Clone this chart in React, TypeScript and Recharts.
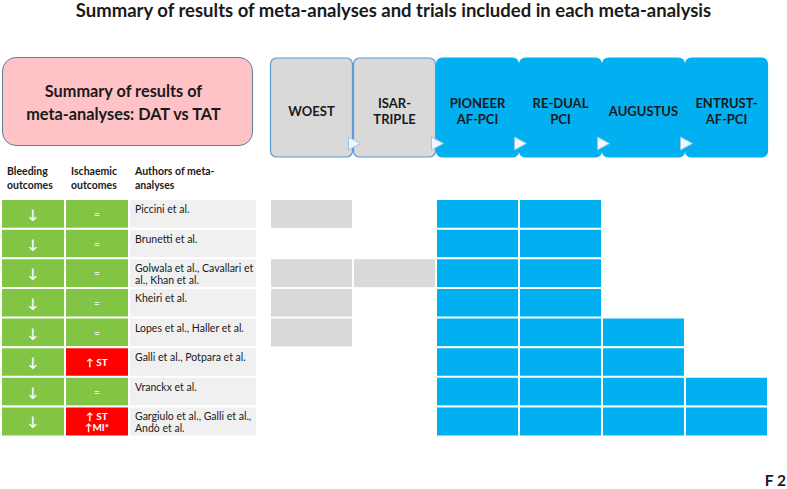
import React from 'react';
import { BarChart, Bar, XAxis, YAxis, Cell, LabelList } from 'recharts';

// trials (columns of the matrix)
const TRIALS = ['WOEST', 'ISAR-TRIPLE', 'PIONEER AF-PCI', 'RE-DUAL PCI', 'AUGUSTUS', 'ENTRUST-AF-PCI'];
const TRIAL_LINES = [['WOEST'], ['ISAR-', 'TRIPLE'], ['PIONEER', 'AF-PCI'], ['RE-DUAL', 'PCI'], ['AUGUSTUS'], ['ENTRUST-', 'AF-PCI']];
const TRIAL_GRAY = [true, true, false, false, false, false];

// meta-analyses (rows)
const AUTHORS = [
    'Piccini et al.',
    'Brunetti et al.',
    'Golwala et al., Cavallari et\nal., Khan et al.',
    'Kheiri et al.',
    'Lopes et al., Haller et al.',
    'Galli et al., Potpara et al.',
    'Vranckx et al.',
    'Gargiulo et al., Galli et al.,\nAndò et al.',
];
const BLEEDING = ['↓', '↓', '↓', '↓', '↓', '↓', '↓', '↓'];
const ISCHAEMIC = ['=', '=', '=', '=', '=', '↑ ST', '=', '↑ ST\n↑MI*'];

// trial included in each meta-analysis (1 = yes)
const INC_WOEST = [1, 0, 1, 1, 1, 0, 0, 0];
const INC_ISAR = [0, 0, 1, 0, 0, 0, 0, 0];
const INC_PIONEER = [1, 1, 1, 1, 1, 1, 1, 1];
const INC_REDUAL = [1, 1, 1, 1, 1, 1, 1, 1];
const INC_AUGUSTUS = [0, 0, 0, 0, 1, 1, 1, 1];
const INC_ENTRUST = [0, 0, 0, 0, 0, 0, 1, 1];
const INCLUDED = [INC_WOEST, INC_ISAR, INC_PIONEER, INC_REDUAL, INC_AUGUSTUS, INC_ENTRUST];

const TABLE_HEADERS = [['Bleeding', 'outcomes'], ['Ischaemic', 'outcomes'], ['Authors of meta-', 'analyses']];

const COLORS = {
    blue: '#00B0F0',
    gray: '#D9D9D9',
    green: '#82C444',
    red: '#FF0000',
    authorsBg: '#F0F0F0',
    pink: '#FFC2C6',
    text: '#1A1A1A',
};

const FONT = 'Lato, "Open Sans", sans-serif';

const matrixData = AUTHORS.map((author) => {
    const row: Record<string, string | number> = { author };
    TRIALS.forEach((_, j) => {
        row[`t${j}`] = 1;
    });
    return row;
});

const tableData = AUTHORS.map((author, i) => ({
    author,
    bleeding: BLEEDING[i],
    ischaemic: ISCHAEMIC[i],
    bW: 1,
    iW: 1,
    aW: 2,
}));

const TrialTick = (props: any) => {
    const { x, index } = props;
    const gray = TRIAL_GRAY[index];
    const lines = TRIAL_LINES[index];
    const top = 58;
    const h = 99;
    const cy = top + h / 2 + 3;
    return (
        <g>
            <rect
                x={x - 41}
                y={top}
                width={82}
                height={h}
                rx={6}
                fill={gray ? COLORS.gray : COLORS.blue}
                stroke={gray ? '#5B9BD5' : COLORS.blue}
                strokeWidth={1.2}
            />
            {lines.map((l, k) => (
                <text
                    key={k}
                    x={x}
                    y={cy + (k - (lines.length - 1) / 2) * 16}
                    textAnchor="middle"
                    dominantBaseline="central"
                    fontFamily={FONT}
                    fontWeight={700}
                    fontSize={13}
                    fill={COLORS.text}
                >
                    {l}
                </text>
            ))}
            {index > 0 && (
                <polygon
                    points={`${x - 46},${top + 79} ${x - 34},${top + 85.5} ${x - 46},${top + 92}`}
                    fill="#EEF7FC"
                    stroke="#9DC3E6"
                    strokeWidth={1}
                />
            )}
        </g>
    );
};

const HeaderTick = (props: any) => {
    const { x, index } = props;
    const lines = TABLE_HEADERS[index];
    return (
        <g>
            {lines.map((l, k) => (
                <text
                    key={k}
                    x={x + 6}
                    y={171 + k * 14}
                    dominantBaseline="central"
                    fontFamily={FONT}
                    fontWeight={700}
                    fontSize={10.5}
                    fill={COLORS.text}
                >
                    {l}
                </text>
            ))}
        </g>
    );
};

const centerLabel = (size: number, color: string) => (props: any) => {
    const { x, y, width, height, value } = props;
    const lines = String(value).split('\n');
    return (
        <g>
            {lines.map((l, k) => (
                <text
                    key={k}
                    x={x + width / 2}
                    y={y + height / 2 + (k - (lines.length - 1) / 2) * 11}
                    textAnchor="middle"
                    dominantBaseline="central"
                    fontFamily={FONT}
                    fontWeight={700}
                    fontSize={size}
                    fill={l === '=' ? '#E4F3D6' : color}
                >
                    {l}
                </text>
            ))}
        </g>
    );
};

const authorLabel = (props: any) => {
    const { x, y, value } = props;
    const lines = String(value).split('\n');
    return (
        <g>
            {lines.map((l, k) => (
                <text
                    key={k}
                    x={x + 6}
                    y={y + 10 + k * 11.5}
                    dominantBaseline="central"
                    fontFamily={FONT}
                    fontSize={10.5}
                    fill={COLORS.text}
                >
                    {l}
                </text>
            ))}
        </g>
    );
};

const App: React.FC = () => {
    return (
        <div style={{ position: 'absolute', left: 0, top: 0, width: 787, height: 489, background: '#fff', fontFamily: FONT }}>
            <div
                style={{
                    position: 'absolute',
                    left: 0,
                    top: -1,
                    width: 787,
                    textAlign: 'center',
                    fontSize: 18.5,
                    fontWeight: 700,
                    lineHeight: '22px',
                    color: COLORS.text,
                }}
            >
                Summary of results of meta-analyses and trials included in each meta-analysis
            </div>

            <div
                style={{
                    position: 'absolute',
                    left: 2,
                    top: 57,
                    width: 251,
                    height: 89,
                    background: COLORS.pink,
                    border: '1.5px solid #5F7F9A',
                    borderRadius: 14,
                    display: 'flex',
                    alignItems: 'center',
                    justifyContent: 'center',
                    textAlign: 'center',
                    fontSize: 16.3,
                    fontWeight: 700,
                    lineHeight: '23px',
                    color: COLORS.text,
                    paddingRight: 8,
                    boxSizing: 'border-box',
                }}
            >
                Summary of results of
                <br />
                meta-analyses: DAT vs TAT
            </div>

            <div style={{ position: 'absolute', left: 0, top: 0 }}>
                <BarChart
                    width={787}
                    height={489}
                    data={tableData}
                    layout="vertical"
                    margin={{ top: 139, right: 530, left: 1, bottom: 53 }}
                    barCategoryGap={0}
                >
                    <XAxis
                        type="number"
                        orientation="top"
                        domain={[0, 4]}
                        ticks={[0, 1, 2]}
                        height={60}
                        axisLine={false}
                        tickLine={false}
                        interval={0}
                        tick={<HeaderTick />}
                    />
                    <YAxis type="category" dataKey="author" hide />
                    <Bar dataKey="bW" stackId="t" fill={COLORS.green} stroke="#fff" strokeWidth={2} isAnimationActive={false}>
                        <LabelList dataKey="bleeding" content={centerLabel(13, '#FFFFFF')} />
                    </Bar>
                    <Bar dataKey="iW" stackId="t" stroke="#fff" strokeWidth={2} isAnimationActive={false}>
                        {ISCHAEMIC.map((v, i) => (
                            <Cell key={i} fill={v === '=' ? COLORS.green : COLORS.red} />
                        ))}
                        <LabelList dataKey="ischaemic" content={centerLabel(10, '#FFFFFF')} />
                    </Bar>
                    <Bar dataKey="aW" stackId="t" fill={COLORS.authorsBg} stroke="#fff" strokeWidth={2} isAnimationActive={false}>
                        <LabelList dataKey="author" content={authorLabel} />
                    </Bar>
                </BarChart>
            </div>

            <div style={{ position: 'absolute', left: 0, top: 0 }}>
                <BarChart
                    width={787}
                    height={489}
                    data={matrixData}
                    layout="vertical"
                    margin={{ top: 59, right: 19, left: 270, bottom: 53 }}
                    barCategoryGap={0}
                >
                    <XAxis
                        type="number"
                        orientation="top"
                        domain={[0, TRIALS.length]}
                        ticks={TRIALS.map((_, j) => j + 0.5)}
                        height={140}
                        axisLine={false}
                        tickLine={false}
                        interval={0}
                        tick={<TrialTick />}
                    />
                    <YAxis type="category" dataKey="author" hide />
                    {TRIALS.map((t, j) => (
                        <Bar key={t} dataKey={`t${j}`} stackId="m" isAnimationActive={false}>
                            {INCLUDED[j].map((inc, i) => (
                                <Cell
                                    key={i}
                                    fill={inc ? (TRIAL_GRAY[j] ? COLORS.gray : COLORS.blue) : 'transparent'}
                                    stroke={inc ? '#fff' : 'none'}
                                    strokeWidth={2}
                                />
                            ))}
                        </Bar>
                    ))}
                </BarChart>
            </div>

            <div
                style={{
                    position: 'absolute',
                    right: 1,
                    top: 471,
                    fontSize: 15.5,
                    fontWeight: 700,
                    color: COLORS.text,
                }}
            >
                F 2
            </div>
        </div>
    );
};

export default App;
